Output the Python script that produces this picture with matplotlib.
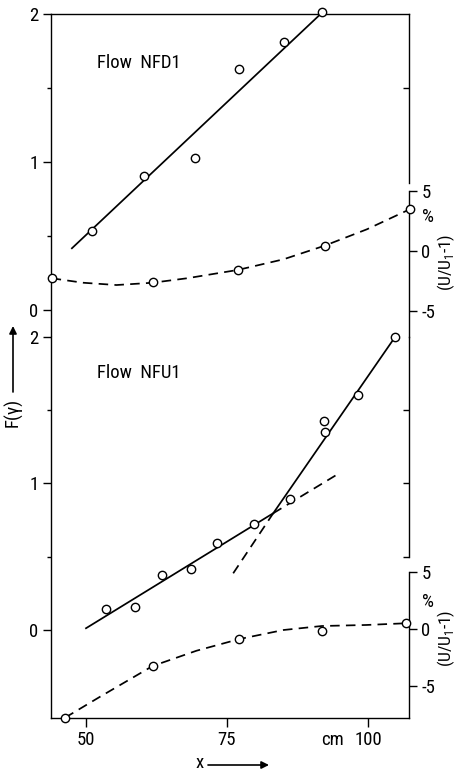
import matplotlib
matplotlib.use('Agg')
import matplotlib.pyplot as plt
from matplotlib import font_manager as fm

# ---- pick a narrow sans font if one is installed ----
def pick_font():
    entries = fm.fontManager.ttflist
    def ok(f):
        return f.style == 'normal' and f.weight in (400, 'normal', 'regular')
    prefs = ['Liberation Sans Narrow', 'Roboto Condensed', 'Open Sans Condensed',
             'Noto Sans Condensed', 'DejaVu Sans Condensed', 'Arial Narrow']
    for p in prefs:
        for f in entries:
            if f.name == p and ok(f):
                return f.name, 'normal'
    for fam in ['Liberation Sans', 'Noto Sans', 'DejaVu Sans', 'Roboto', 'Open Sans']:
        for f in entries:
            if f.name == fam and ok(f) and f.stretch in ('condensed', 'semi-condensed', 'extra-condensed'):
                return f.name, f.stretch
    for f in entries:
        if ok(f) and ('Narrow' in f.name or 'Condensed' in f.name):
            return f.name, 'normal'
    return 'Liberation Sans', 'normal'

base, stretch = pick_font()
plt.rcParams['font.family'] = [base, 'DejaVu Sans']
plt.rcParams['font.stretch'] = stretch
plt.rcParams['axes.unicode_minus'] = False
plt.rcParams['mathtext.fontset'] = 'custom'
plt.rcParams['mathtext.rm'] = base
narrow = base != 'Liberation Sans'

# ---------------- data ----------------
# Flow NFD1 : F(gamma) points and fitted line
nfd1_x = [51.1, 60.2, 69.3, 77.2, 85.05, 91.8]
nfd1_F = [0.534, 0.905, 1.03, 1.63, 1.81, 2.016]
nfd1_fit_x = [47.5, 91.6]
nfd1_fit_F = [0.417, 2.0]
# Flow NFD1 : (U/U1 - 1) in %
nfd1_u_x = [43.9, 61.8, 76.9, 92.3, 107.4]
nfd1_u = [-2.27, -2.55, -1.58, 0.43, 3.45]
nfd1_curve_x = [43.9, 49.5, 55.4, 61.8, 67.9, 76.9, 85.0, 92.3, 99.8, 107.4]
nfd1_curve_u = [-2.27, -2.64, -2.83, -2.64, -2.27, -1.58, -0.70, 0.43, 1.79, 3.45]

# Flow NFU1 : F(gamma) points and two fitted lines
nfu1_x = [53.5, 58.7, 63.5, 68.6, 73.2, 79.7, 86.2, 92.2, 92.4, 98.3, 104.8]
nfu1_F = [0.143, 0.157, 0.375, 0.416, 0.592, 0.724, 0.894, 1.429, 1.35, 1.604, 2.0]
nfu1_fitA_x = [50.0, 83.2]
nfu1_fitA_F = [0.012, 0.797]
nfu1_fitA_ext_x = [83.2, 94.9]
nfu1_fitA_ext_F = [0.797, 1.07]
nfu1_fitB_x = [83.2, 104.8]
nfu1_fitB_F = [0.797, 2.0]
nfu1_fitB_ext_x = [76.1, 83.2]
nfu1_fitB_ext_F = [0.387, 0.797]
# Flow NFU1 : (U/U1 - 1) in %
nfu1_u_x = [46.3, 61.8, 77.2, 91.8, 106.7]
nfu1_u = [-7.74, -3.23, -0.87, -0.14, 0.56]
nfu1_curve_x = [46.3, 52.5, 61.8, 69.6, 77.2, 85.0, 91.8, 99.7, 106.7]
nfu1_curve_u = [-7.74, -5.91, -3.23, -1.89, -0.87, -0.08, 0.27, 0.36, 0.51]

F_major = [0, 1, 2]
F_minor = [0.5, 1.5]
u_ticks = [-5, 0, 5]
u_labels = ['-5', '0', '5']
x_ticks = [50, 75, 100]
x_labels = ['50', '75', '100']

# ---------------- layout ----------------
W, H = 458, 774
fig = plt.figure(figsize=(W / 100, H / 100), dpi=100)

def fx(px):
    return px / W

def fy(py):
    return 1 - py / H

L, R = 51, 409
xlim = (43.794, 107.27)
FS = 13.5 if narrow else 11.5
LW = 1.25
DASH = (5.5, 3.6)
mk = dict(marker='o', ms=6.0, mfc='white', mec='black', mew=1.0, ls='none', clip_on=False, zorder=5)

ax1 = fig.add_axes([fx(L), fy(337), fx(R - L), (337 - 14) / H])
ax2 = fig.add_axes([fx(L), fy(718), fx(R - L), (718 - 337) / H])

for ax in (ax1, ax2):
    ax.set_xlim(*xlim)
    for s in ax.spines.values():
        s.set_linewidth(1.0)

# ---- top panel ----
ax1.set_ylim(-0.1824, 2.0)
ax1.spines['bottom'].set_visible(False)
ax1.spines['right'].set_bounds(0.858, 2.0)
ax1.set_yticks(F_major)
ax1.set_yticklabels(['0', '1', '2'])
ax1.set_yticks(F_minor, minor=True)
ax1.tick_params(axis='y', which='major', direction='out', length=6, width=1, labelsize=FS, pad=3)
ax1.tick_params(axis='y', which='minor', direction='out', length=3, width=1)
ax1.tick_params(axis='x', which='both', bottom=False, labelbottom=False)
ax1.plot(nfd1_fit_x, nfd1_fit_F, color='black', lw=LW)
ax1.plot(nfd1_x, nfd1_F, **mk)

ax1r = ax1.twinx()
ax1r.set_ylim(ax1.get_ylim())
for s in ax1r.spines.values():
    s.set_visible(False)
ax1r.set_yticks([1.5])
ax1r.tick_params(axis='y', direction='in', length=4, width=1, labelright=False)

ax1s = ax1.twinx()
ax1s.set_ylim(-7.139, 19.643)
for k, s in ax1s.spines.items():
    s.set_visible(k == 'right')
ax1s.spines['right'].set_linewidth(1.0)
ax1s.spines['right'].set_bounds(-7.139, 5)
ax1s.set_yticks(u_ticks)
ax1s.set_yticklabels(u_labels)
ax1s.tick_params(axis='y', direction='out', length=6, width=1, labelsize=FS, pad=3)
ax1s.plot(nfd1_curve_x, nfd1_curve_u, color='black', lw=LW, dashes=DASH, clip_on=False)
ax1s.plot(nfd1_u_x, nfd1_u, **mk)

# ---- bottom panel ----
ax2.set_ylim(-0.6007, 2.0)
ax2.spines['top'].set_visible(False)
ax2.spines['right'].set_bounds(0.5, 2.0)
ax2.set_yticks(F_major)
ax2.set_yticklabels(['0', '1', '2'])
ax2.set_yticks(F_minor, minor=True)
ax2.tick_params(axis='y', which='major', direction='out', length=6, width=1, labelsize=FS, pad=3)
ax2.tick_params(axis='y', which='minor', direction='out', length=3, width=1)
ax2.set_xticks(x_ticks)
ax2.set_xticklabels(x_labels)
ax2.tick_params(axis='x', which='major', direction='out', length=6.5, width=1, labelsize=FS, pad=3)
ax2.plot(nfu1_fitA_x, nfu1_fitA_F, color='black', lw=LW)
ax2.plot(nfu1_fitB_x, nfu1_fitB_F, color='black', lw=LW)
ax2.plot(nfu1_fitA_ext_x, nfu1_fitA_ext_F, color='black', lw=LW, dashes=DASH)
ax2.plot(nfu1_fitB_ext_x, nfu1_fitB_ext_F, color='black', lw=LW, dashes=DASH)
ax2.plot(nfu1_x, nfu1_F, **mk)

ax2r = ax2.twinx()
ax2r.set_ylim(ax2.get_ylim())
for s in ax2r.spines.values():
    s.set_visible(False)
ax2r.set_yticks([0.5, 1.0, 1.5])
ax2r.tick_params(axis='y', direction='in', length=4, width=1, labelright=False)

ax2s = ax2.twinx()
ax2s.set_ylim(-7.771, 25.533)
for k, s in ax2s.spines.items():
    s.set_visible(k == 'right')
ax2s.spines['right'].set_linewidth(1.0)
ax2s.spines['right'].set_bounds(-7.771, 5)
ax2s.set_yticks(u_ticks)
ax2s.set_yticklabels(u_labels)
ax2s.tick_params(axis='y', which='major', direction='out', length=6, width=1, labelsize=FS, pad=3)
ax2s.set_yticks([-5], minor=True)
ax2s.tick_params(axis='y', which='minor', direction='in', length=4, width=1, left=True, right=False)
ax2s.plot(nfu1_curve_x, nfu1_curve_u, color='black', lw=LW, dashes=DASH, clip_on=False)
ax2s.plot(nfu1_u_x, nfu1_u, **mk)

# ---- texts ----
fig.text(fx(97), fy(63), 'Flow  NFD1', fontsize=FS, ha='left', va='center')
fig.text(fx(97), fy(373), 'Flow  NFU1', fontsize=FS, ha='left', va='center')
for py in (217, 602):
    fig.text(fx(428), fy(py), '%', fontsize=FS, ha='center', va='center')
for py in (262, 638):
    fig.text(fx(446), fy(py), '(U/U$_\\mathregular{1}$-1)', fontsize=FS - 1, rotation=90,
             ha='center', va='center')
fig.text(fx(13), fy(412), 'F(γ)', fontsize=FS, rotation=90, ha='center', va='center')
fig.text(fx(332), fy(740), 'cm', fontsize=FS, ha='center', va='center')
fig.text(fx(200), fy(763), 'x', fontsize=FS, ha='center', va='center')

arrow = dict(arrowstyle='-|>', lw=1.2, color='black', mutation_scale=11, shrinkA=0, shrinkB=0)
fig.add_artist(matplotlib.patches.FancyArrowPatch((fx(13), fy(392)), (fx(13), fy(326)),
               transform=fig.transFigure, **arrow))
fig.add_artist(matplotlib.patches.FancyArrowPatch((fx(208), fy(765)), (fx(269), fy(765)),
               transform=fig.transFigure, **arrow))

fig.savefig('out.png', dpi=100)
